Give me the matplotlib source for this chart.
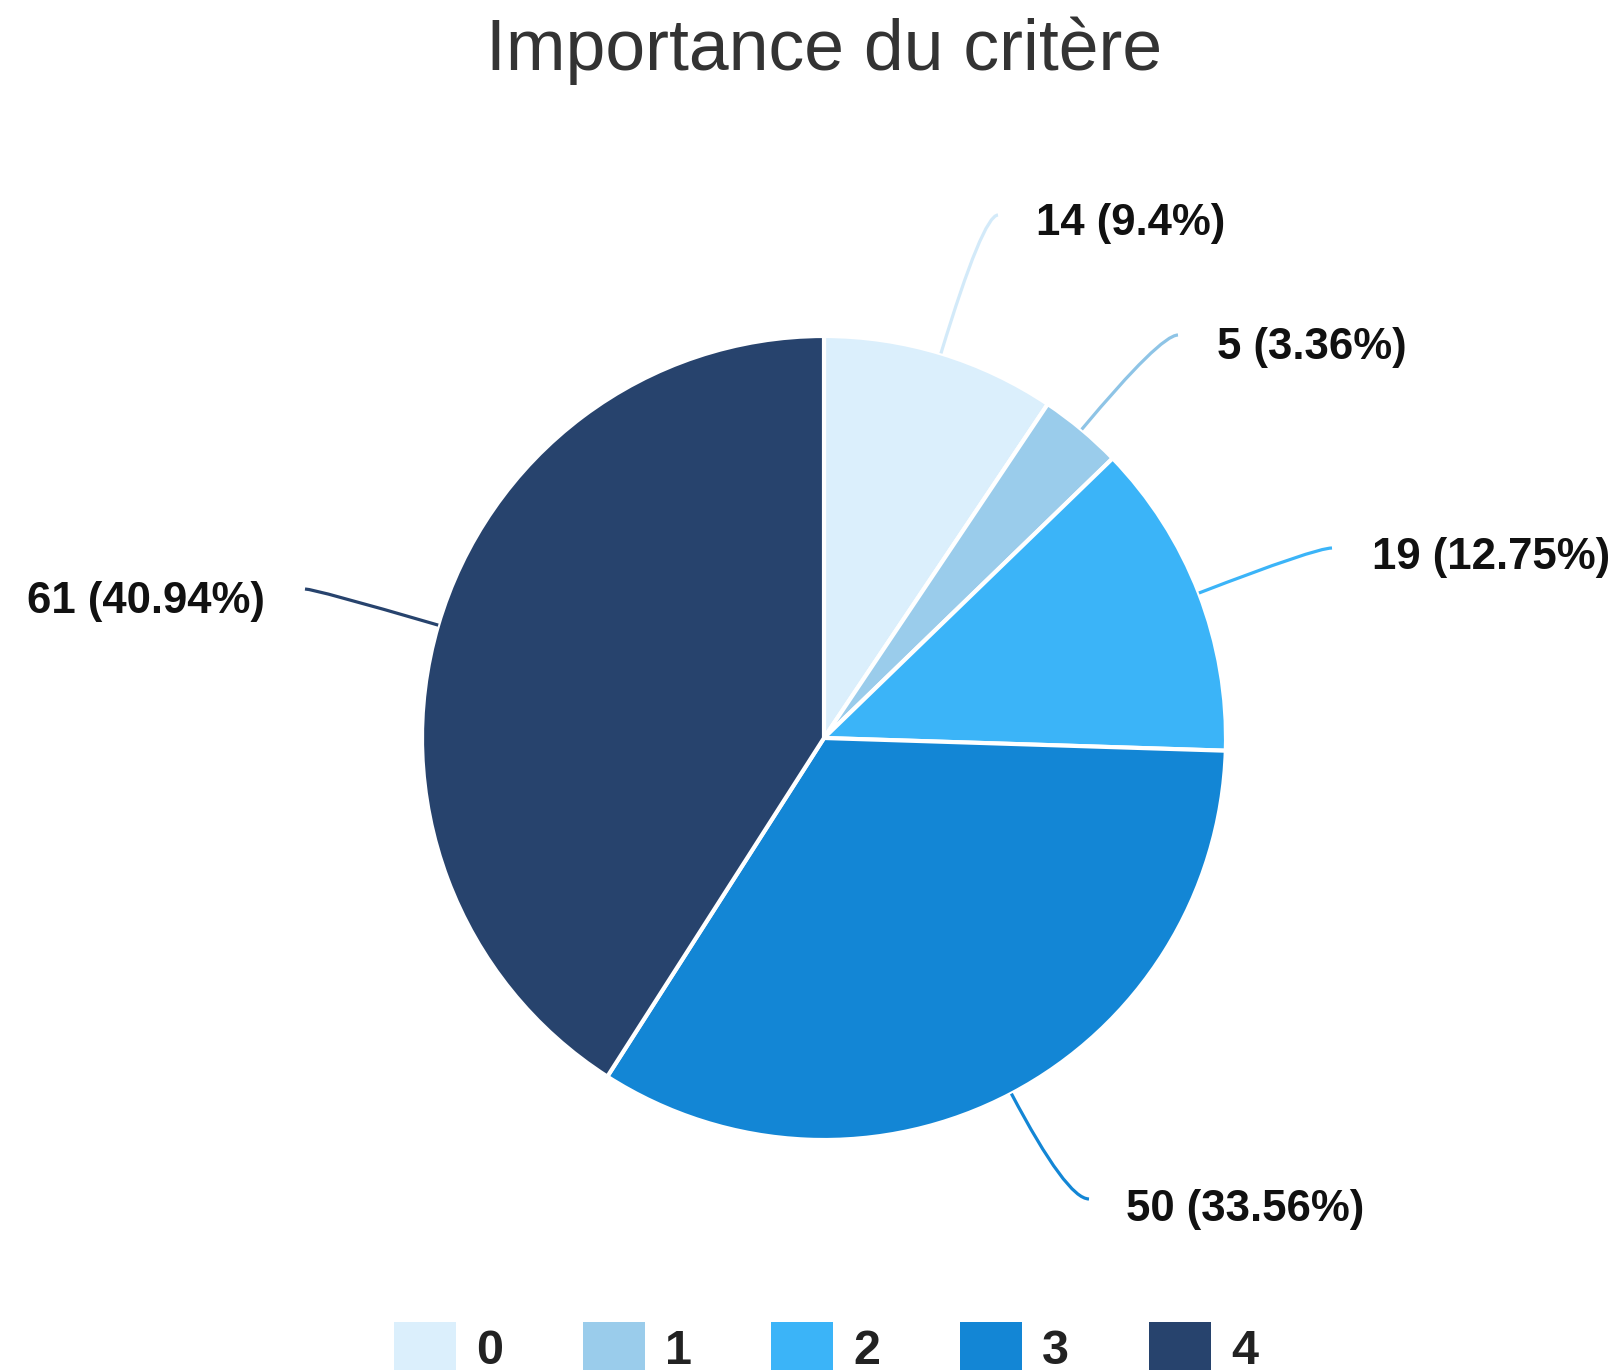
import numpy as np
import matplotlib
matplotlib.use("Agg")
import matplotlib.pyplot as plt
from matplotlib.path import Path
from matplotlib.patches import PathPatch, Rectangle

# data
categories = ["0", "1", "2", "3", "4"]
counts = [14, 5, 19, 50, 61]
pct_labels = ["9.4%", "3.36%", "12.75%", "33.56%", "40.94%"]
colors = ["#DBEFFC", "#9ACCEB", "#3BB4F8", "#1386D5", "#27436D"]
title = "Importance du critère"

W, H = 1621, 1372
plt.rcParams['font.family'] = ['Liberation Sans', 'DejaVu Sans']

fig = plt.figure(figsize=(W / 100, H / 100), dpi=100)
ax = fig.add_axes([0, 0, 1, 1])

cx, cy, R = 824, H - 738, 402
wedges, _ = ax.pie(counts, colors=colors, startangle=90, counterclock=False,
                   center=(cx, cy), radius=R,
                   wedgeprops=dict(edgecolor="white", linewidth=3))
ax.set_xlim(0, W)
ax.set_ylim(0, H)
ax.set_aspect("equal")
ax.axis("off")

# label layout (image pixel coords): text anchor, leader end, alignment
label_pos = [(1036, 224), (1217, 348), (1372, 558), (1126, 1210), (265, 602)]
line_end = [(998, 215), (1178, 335), (1332, 548), (1089, 1199), (305, 589)]
aligns = ["left", "left", "left", "left", "right"]

line_colors = ["#D3EAF9", "#8EC4E6", "#3BB4F8", "#1386D5", "#27436D"]

for i, w in enumerate(wedges):
    mid = np.deg2rad((w.theta1 + w.theta2) / 2)
    d = np.array([np.cos(mid), np.sin(mid)])
    p0 = np.array([cx, cy]) + R * d
    p2 = np.array([line_end[i][0], H - line_end[i][1]])
    t = (p2[1] - p0[1]) / d[1]
    p1 = p0 + d * t
    path = Path([p0, p1, p2], [Path.MOVETO, Path.CURVE3, Path.CURVE3])
    ax.add_patch(PathPatch(path, facecolor="none", edgecolor=line_colors[i], lw=2.3))
    ax.text(label_pos[i][0], H - label_pos[i][1],
            f"{counts[i]} ({pct_labels[i]})", ha=aligns[i], va="center",
            fontsize=31.5, fontweight="bold", color="#111111")

ax.text(W / 2 + 14, H - 70, title, ha="center", va="baseline",
        fontsize=51.5, color="#333333")

# legend
for i, c in enumerate(categories):
    x0 = 394 + i * 188.7
    ax.add_patch(Rectangle((x0, H - 1370), 62, 48, facecolor=colors[i], edgecolor="none"))
    ax.text(x0 + 82, H - 1351, c, ha="left", va="center",
            fontsize=35, fontweight="bold", color="#222222")

fig.savefig("out.png", dpi=100)
